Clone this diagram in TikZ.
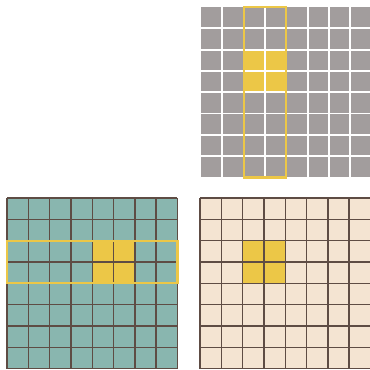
\documentclass[tikz,border=0pt]{standalone}
\definecolor{cellgray}{HTML}{A29D9D}
\definecolor{cellteal}{HTML}{89B6AF}
\definecolor{cellbeige}{HTML}{F4E4D2}
\definecolor{hlyellow}{HTML}{ECC747}
\definecolor{gridline}{HTML}{5E4C44}
\tikzset{
  thinline/.style={gridline, line width=1.1pt},
  whiteline/.style={white, line width=1.5pt},
  frameline/.style={hlyellow, line width=1.8pt}
}
\begin{document}
\begin{tikzpicture}[x=0.6cm, y=-0.6cm]
				\useasboundingbox (0,0) rectangle (17.37,17.37);
				
				% 1. 灰色网格 (右上)
				\begin{scope}[shift={(9.44,0.33)}]
					\fill[cellgray] (0,0) rectangle (8,8);
					\fill[hlyellow] (2,2) rectangle (4,4);
					\foreach \i in {1,...,7} {
						\draw[whiteline] (\i,0) -- (\i,8);
						\draw[whiteline] (0,\i) -- (8,\i);
					}
					\draw[frameline] (2,0) rectangle (4,8);
				\end{scope}
				
				% 2. 青色网格 (左下)
				\begin{scope}[shift={(0.33,9.3)}]
					\fill[cellteal] (0,0) rectangle (8,8);
					\fill[hlyellow] (4,2) rectangle (6,4);
					\foreach \i in {0,...,8} {
						\draw[thinline] (\i,0) -- (\i,8);
						\draw[thinline] (0,\i) -- (8,\i);
					}
					\draw[frameline] (0,2) rectangle (8,4);
				\end{scope}
				
				% 3. 米色网格 (右下)
				\begin{scope}[shift={(9.39,9.3)}]
					\fill[cellbeige] (0,0) rectangle (8,8);
					\fill[hlyellow] (2,2) rectangle (4,4);
					\foreach \i in {0,...,8} {
						\draw[thinline] (\i,0) -- (\i,8);
						\draw[thinline] (0,\i) -- (8,\i);
					}
				\end{scope}
			\end{tikzpicture}
\end{document}
